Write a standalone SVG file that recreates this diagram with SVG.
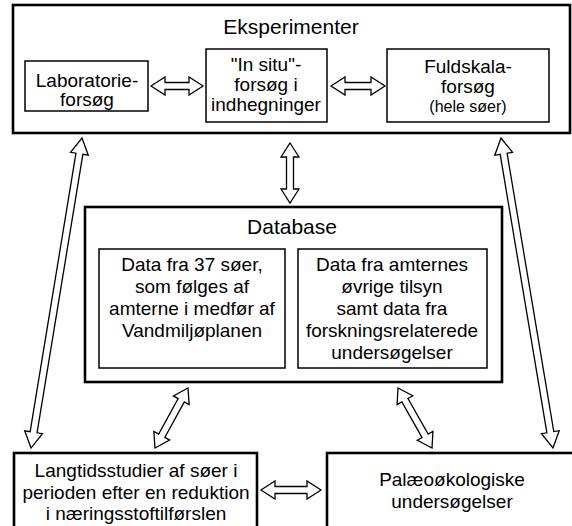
<svg xmlns="http://www.w3.org/2000/svg" width="572" height="526" viewBox="0 0 572 526">
<style>
.outer{fill:#fff;stroke:#000;stroke-width:2.6}
.inner{fill:#fff;stroke:#000;stroke-width:1.5}
.t{font-family:"Liberation Sans",Arial,Helvetica,sans-serif;font-size:19px;fill:#000;text-anchor:middle}
.h{font-size:21px}
.s{font-size:16px}
.arr{fill:#fff;stroke:#000;stroke-width:1.3;stroke-linejoin:miter}
</style>
<rect width="572" height="526" fill="#fff"/>

<g id="eksperimenter">
<rect class="outer" x="13" y="5" width="557" height="128"/>
<text class="t h" x="291" y="34">Eksperimenter</text>
</g>
<g id="laboratorie">
<rect class="inner" x="25" y="61" width="123" height="50"/>
<text class="t" x="87" y="87">Laboratorie-</text>
<text class="t" x="87" y="106">forsøg</text>
</g>
<g id="insitu">
<rect class="inner" x="206" y="49" width="121" height="73"/>
<text class="t" x="266" y="71">"In situ"-</text>
<text class="t" x="266" y="91">forsøg i</text>
<text class="t" x="266" y="111">indhegninger</text>
</g>
<g id="fuldskala">
<rect class="inner" x="387" y="49" width="162" height="73"/>
<text class="t" x="468" y="73">Fuldskala-</text>
<text class="t" x="468" y="93">forsøg</text>
<text class="t s" x="468" y="112">(hele søer)</text>
</g>

<g id="database">
<rect class="outer" x="85" y="207" width="417" height="175"/>
<text class="t h" x="292" y="234">Database</text>
</g>
<g id="data37">
<rect class="inner" x="99" y="249" width="186" height="119"/>
<text class="t" x="192" y="271">Data fra 37 søer,</text>
<text class="t" x="192" y="293">som følges af</text>
<text class="t" x="192" y="315">amterne i medfør af</text>
<text class="t" x="192" y="337">Vandmiljøplanen</text>
</g>
<g id="dataamter">
<rect class="inner" x="298" y="249" width="189" height="119"/>
<text class="t" x="392" y="271">Data fra amternes</text>
<text class="t" x="392" y="293">øvrige tilsyn</text>
<text class="t" x="392" y="315">samt data fra</text>
<text class="t" x="392" y="337">forskningsrelaterede</text>
<text class="t" x="392" y="359">undersøgelser</text>
</g>

<g id="langtid">
<rect class="outer" x="14" y="453" width="243" height="80"/>
<text class="t" x="136" y="477">Langtidsstudier af søer i</text>
<text class="t" x="136" y="499">perioden efter en reduktion</text>
<text class="t" x="136" y="520">i næringsstoftilførslen</text>
</g>
<g id="palaeo">
<rect class="outer" x="327" y="453" width="250" height="80"/>
<text class="t" x="452" y="486">Palæoøkologiske</text>
<text class="t" x="452" y="508">undersøgelser</text>
</g>

<g id="connectors">
<!-- top horizontal arrows -->
<polygon class="arr" transform="translate(151,86)" points="0,0 14,-9 14,-3.5 38,-3.5 38,-9 52,0 38,9 38,3.5 14,3.5 14,9"/>
<polygon class="arr" transform="translate(331,86)" points="0,0 14,-9 14,-3.5 40,-3.5 40,-9 54,0 40,9 40,3.5 14,3.5 14,9"/>
<!-- vertical arrow -->
<polygon class="arr" transform="translate(290,143) rotate(90)" points="0,0 14,-9 14,-3.5 46,-3.5 46,-9 60,0 46,9 46,3.5 14,3.5 14,9"/>
<!-- long diagonal arrows -->
<polygon class="arr" transform="translate(82,138) rotate(99.34)" points="0,0 16,-9 16,-3.5 298.2,-3.5 298.2,-9 314.2,0 298.2,9 298.2,3.5 16,3.5 16,9"/>
<polygon class="arr" transform="translate(501,138) rotate(80.48)" points="0,0 16,-9 16,-3.5 298.3,-3.5 298.3,-9 314.3,0 298.3,9 298.3,3.5 16,3.5 16,9"/>
<!-- short diagonal arrows -->
<polygon class="arr" transform="translate(188,388) rotate(118.81)" points="0,0 14,-9 14,-3.5 54.5,-3.5 54.5,-9 68.5,0 54.5,9 54.5,3.5 14,3.5 14,9"/>
<polygon class="arr" transform="translate(398,388) rotate(60.46)" points="0,0 14,-9 14,-3.5 55,-3.5 55,-9 69,0 55,9 55,3.5 14,3.5 14,9"/>
<!-- bottom horizontal arrow -->
<polygon class="arr" transform="translate(261,490)" points="0,0 14,-9 14,-3.5 46,-3.5 46,-9 60,0 46,9 46,3.5 14,3.5 14,9"/>
</g>
</svg>
